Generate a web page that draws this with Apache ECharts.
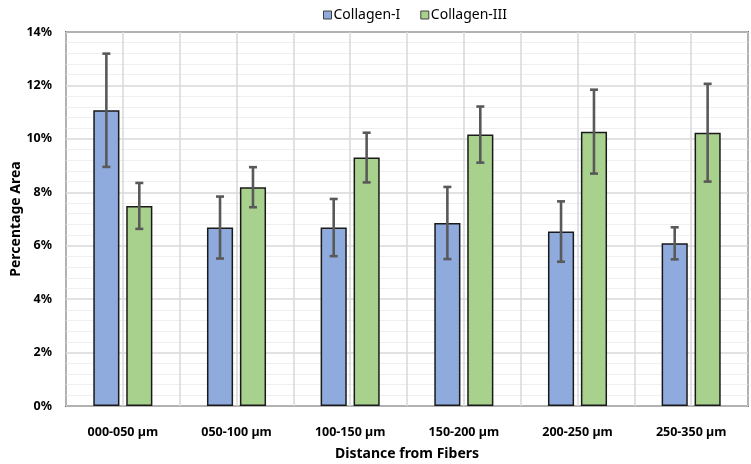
<!DOCTYPE html>
<html>
<head>
<meta charset="utf-8">
<script src="https://cdn.jsdelivr.net/npm/echarts@6/dist/echarts.min.js"></script>
<style>
  html, body { margin: 0; padding: 0; background: #fff; }
  #chart { width: 751px; height: 464px; }
</style>
</head>
<body>
<div id="chart"></div>
<script>
// values (fractions, shown as %)
const categories = ['000-050 µm', '050-100 µm', '100-150 µm', '150-200 µm', '200-250 µm', '250-350 µm'];
const collagenI = [0.1107, 0.0668, 0.0668, 0.0685, 0.0653, 0.0609];
const collagenIII = [0.0749, 0.0819, 0.0930, 0.1016, 0.1027, 0.1023];
const collagenIErr = [0.0212, 0.0116, 0.0107, 0.0135, 0.0113, 0.0060];
const collagenIIIErr = [0.0086, 0.0075, 0.0093, 0.0105, 0.0157, 0.0183];
const yTicks = [0, 0.02, 0.04, 0.06, 0.08, 0.10, 0.12, 0.14];

const BAR_W = 0.23;   // share of the category band
const BAR_GAP = 0.26; // share of one bar width

const font = '"Noto Sans", "DejaVu Sans", sans-serif';

function errorSeries(name, means, errs, side) {
    return {
        name: name,
        type: 'custom',
        xAxisIndex: 0,
        yAxisIndex: 0,
        z: 5,
        data: means.map((m, i) => [i, m - errs[i], m + errs[i]]),
        renderItem: function (params, api) {
            const band = api.size([1, 0])[0];
            const off = side * band * BAR_W * (1 + BAR_GAP) / 2;
            const lo = api.coord([api.value(0), api.value(1)]);
            const hi = api.coord([api.value(0), api.value(2)]);
            const x = lo[0] + off;
            const cap = 4;
            const style = { stroke: '#595959', lineWidth: 2.6 };
            return {
                type: 'group',
                children: [
                    { type: 'line', shape: { x1: x, y1: lo[1], x2: x, y2: hi[1] }, style: style },
                    { type: 'line', shape: { x1: x - cap, y1: lo[1], x2: x + cap, y2: lo[1] }, style: style },
                    { type: 'line', shape: { x1: x - cap, y1: hi[1], x2: x + cap, y2: hi[1] }, style: style }
                ]
            };
        }
    };
}

const chart = echarts.init(document.getElementById('chart'), null, { renderer: 'canvas' });
chart.setOption({
    animation: false,
    legend: {
        top: 3,
        left: 318,
        itemWidth: 8,
        itemHeight: 8,
        itemGap: 20,
        icon: 'rect',
        data: ['Collagen-I', 'Collagen-III'],
        textStyle: { fontFamily: font, fontSize: 14, color: '#000', padding: [0, 0, 0, -3] },
        itemStyle: { borderColor: '#404040', borderWidth: 1 }
    },
    grid: {
        left: 66,
        right: 3,
        top: 32,
        bottom: 58,
        show: true,
        borderColor: '#000',
        borderWidth: 1.5,
        containLabel: false,
        outerBoundsMode: 'none'
    },
    xAxis: [{
        type: 'category',
        data: categories,
        name: 'Distance from Fibers',
        nameLocation: 'middle',
        nameGap: 41,
        nameTextStyle: { fontFamily: font, fontSize: 14, fontWeight: 'bold', color: '#000' },
        axisLine: { show: false },
        axisTick: { show: false },
        splitLine: { show: false },
        axisLabel: { fontFamily: font, fontSize: 12.5, fontWeight: 'bold', color: '#000', margin: 20 }
    }, {
        // helper axis for the vertical grid at band edges and centres
        type: 'value',
        position: 'top',
        min: 0,
        max: categories.length * 2,
        interval: 1,
        axisLine: { show: false },
        axisTick: { show: false },
        axisLabel: { show: false },
        splitLine: { show: true, lineStyle: { color: '#d9d9d9', width: 1.5 } }
    }],
    yAxis: {
        type: 'value',
        min: yTicks[0],
        max: yTicks[yTicks.length - 1],
        interval: 0.02,
        name: 'Percentage Area',
        nameLocation: 'middle',
        nameGap: 43,
        nameMoveOverlap: false,
        nameTextStyle: { fontFamily: font, fontSize: 14, fontWeight: 'bold', color: '#000' },
        axisLine: { show: false },
        axisTick: { show: false },
        axisLabel: {
            fontFamily: font, fontSize: 12.5, fontWeight: 'bold', color: '#000', margin: 14,
            formatter: (v) => Math.round(v * 100) + '%'
        },
        splitLine: { lineStyle: { color: '#d9d9d9', width: 1.5 } },
        minorTick: { show: false, splitNumber: 5 },
        minorSplitLine: { show: true, lineStyle: { color: '#efefef', width: 1 } }
    },
    series: [{
        name: 'Collagen-I',
        type: 'bar',
        data: collagenI,
        barWidth: (BAR_W * 100) + '%',
        barGap: (BAR_GAP * 100) + '%',
        itemStyle: { color: '#8faadc', borderColor: '#1a1a1a', borderWidth: 1.5 }
    }, {
        name: 'Collagen-III',
        type: 'bar',
        data: collagenIII,
        barWidth: (BAR_W * 100) + '%',
        barGap: (BAR_GAP * 100) + '%',
        itemStyle: { color: '#a9d18e', borderColor: '#1a1a1a', borderWidth: 1.5 }
    },
    errorSeries('Collagen-I err', collagenI, collagenIErr, -1),
    errorSeries('Collagen-III err', collagenIII, collagenIIIErr, 1)
    ]
});
</script>
</body>
</html>
